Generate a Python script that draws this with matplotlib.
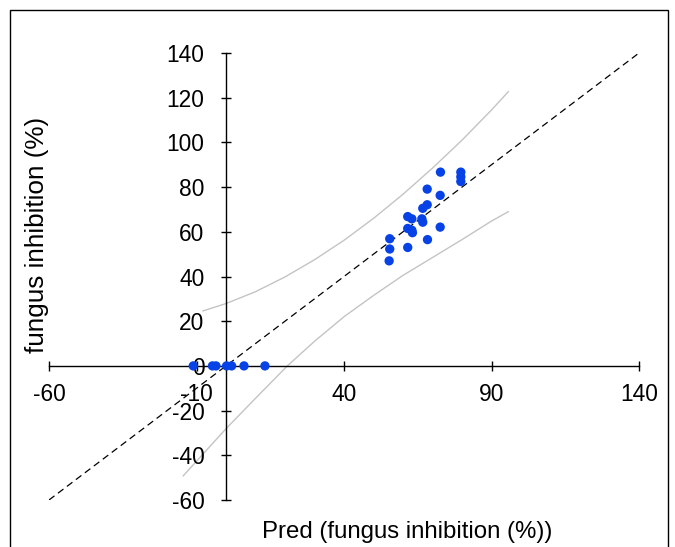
import matplotlib
matplotlib.use("Agg")
import matplotlib.pyplot as plt
from matplotlib.patches import Rectangle

plt.rcParams['font.family'] = ['Liberation Sans', 'DejaVu Sans']

# Observed (actual) vs predicted fungus inhibition
pred = [72.7, 79.6, 79.6, 79.6, 68.2, 72.6, 68.2, 66.7, 66.4, 66.7, 61.6,
        63.0, 61.6, 63.0, 63.2, 72.6, 68.3, 55.5, 55.5, 61.6, 55.3,
        -11.1, -4.6, -3.4, 0.2, 1.9, 6.1, 13.2]
actual = [86.7, 86.7, 84.6, 82.5, 79.1, 76.3, 72.1, 70.5, 65.8, 64.3, 66.8,
          65.8, 61.5, 60.7, 59.6, 62.1, 56.5, 56.9, 52.3, 53.0, 47.0,
          0, 0, 0, 0, 0, 0, 0]

# Prediction band curves
upper_x = [-7.8, 0, 10, 20, 30, 40, 50, 60, 70, 80, 90, 95.7]
upper_y = [24.6, 27.9, 33.2, 39.8, 47.5, 56.2, 66.0, 76.8, 88.5, 101.0, 114.5, 122.7]
lower_x = [-14.5, 0, 10, 20.8, 30, 40, 50, 60, 70, 80, 90, 95.7]
lower_y = [-49.2, -28.1, -14.5, 0, 11.0, 22.0, 31.5, 40.5, 48.5, 56.5, 64.8, 69.0]

# identity line
ident = [-60, 140]

xticks = [-60, -10, 40, 90, 140]
yticks = [-60, -40, -20, 0, 20, 40, 60, 80, 100, 120, 140]

W, H = 675, 547
fig = plt.figure(figsize=(W / 100, H / 100), dpi=100)
ax = fig.add_axes([49 / W, (H - 500) / H, (639 - 49) / W, (500 - 53) / H])
ax.set_xlim(-60, 140)
ax.set_ylim(-60, 140)

ax.plot(ident, ident, color='black', lw=0.9, ls=(0, (5.5, 3.5)), zorder=2)
ax.plot(upper_x, upper_y, color='#c4c4c4', lw=1.0, zorder=1)
ax.plot(lower_x, lower_y, color='#c4c4c4', lw=1.0, zorder=1)
ax.scatter(pred, actual, s=45, color='#0642e6', edgecolors='none', zorder=4)

for s in ['top', 'right']:
    ax.spines[s].set_visible(False)
ax.spines['left'].set_position(('data', 0))
ax.spines['bottom'].set_position(('data', 0))
for s in ['left', 'bottom']:
    ax.spines[s].set_linewidth(1.0)
    ax.spines[s].set_zorder(3)

ax.set_xticks(xticks)
ax.set_yticks(yticks)
ax.set_xticklabels([str(v) for v in xticks])
ax.set_yticklabels([str(v) for v in yticks])
ax.tick_params(axis='both', direction='inout', length=7.2, width=1.0,
               labelsize=16.4, colors='black')
ax.tick_params(axis='y', pad=12)
ax.tick_params(axis='x', pad=9)
for lbl in ax.get_xticklabels() + ax.get_yticklabels():
    lbl.set_zorder(5)
ax.patch.set_visible(False)

fig.text(36.6 / W, 1 - 234.6 / H, 'fungus inhibition (%)', rotation=90,
         ha='center', va='center', fontsize=18.8)
fig.text(406.8 / W, 1 - 532 / H, 'Pred (fungus inhibition (%))',
         ha='center', va='center', fontsize=17.3)

fig.patches.append(Rectangle((9.5 / W, -0.01), (668 - 9.5) / W, 1.01 - 9.5 / H,
                             transform=fig.transFigure, fill=False,
                             edgecolor='black', lw=1.0))

fig.savefig('out.png', dpi=100)
